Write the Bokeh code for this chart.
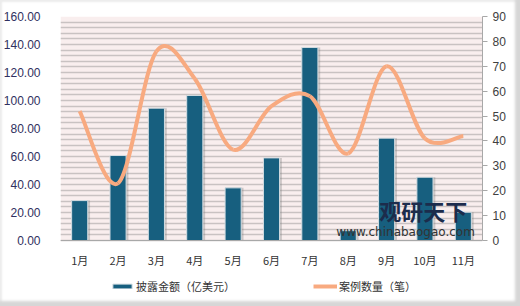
from bokeh.plotting import figure
from bokeh.models import (FactorRange, Range1d, LinearAxis, FixedTicker, NumeralTickFormatter,
                          Legend, LegendItem, ColumnDataSource, Label, BoxAnnotation, Span)
from bokeh.core.properties import value
from bokeh.transform import dodge
from bokeh.embed import file_html
from bokeh.resources import INLINE

months = ["1月", "2月", "3月", "4月", "5月", "6月", "7月", "8月", "9月", "10月", "11月"]
amount = [28.5, 60.7, 94.5, 103.6, 37.6, 59.0, 137.9, 7.0, 73.1, 45.2, 20.2]   # 披露金额（亿美元）
cases = [52, 23, 76, 65, 36.5, 54, 58, 35, 70, 41, 42]                            # 案例数量（笔）
left_ticks = [0, 20, 40, 60, 80, 100, 120, 140, 160]
right_ticks = [0, 10, 20, 30, 40, 50, 60, 70, 80, 90]

BAR = "#175f7f"
LINE = "#f8aa80"
CJK = "Noto Sans CJK SC"
NUM = "Liberation Sans"

LMAX, RMAX = 160, 90
LMIN = -45                       # room under the axis for month labels and legend
RMIN = LMIN * RMAX / LMAX

p = figure(width=520, height=306, x_range=FactorRange(*months), y_range=Range1d(LMIN, LMAX),
           output_backend="svg", toolbar_location=None, tools="")
p.min_border_left = 58
p.min_border_right = 38
p.min_border_top = 16
p.min_border_bottom = 3
p.border_fill_color = None
p.background_fill_color = None
p.outline_line_color = None
p.styles = {"background-color": "white",
            "box-shadow": "inset -5px -5px 3px #d6d6d6, inset 2px 2px 2px #ececec"}

p.extra_y_ranges = {"right": Range1d(RMIN, RMAX)}

# plot-area background and dense stripes
p.add_layout(BoxAnnotation(bottom=0, top=LMAX, fill_color="#f9eeee", fill_alpha=1,
                           line_color=None, level="image"))
p.xgrid.grid_line_color = None
p.ygrid.ticker = FixedTicker(ticks=[4 * i for i in range(41)])
p.ygrid.grid_line_color = "#c9c2c2"
p.ygrid.grid_line_width = 1.5

# axes
ax = p.yaxis[0]
ax.ticker = FixedTicker(ticks=left_ticks)
ax.formatter = NumeralTickFormatter(format="0.00")
ax.axis_line_color = None
ax.major_tick_line_color = None
ax.minor_tick_line_color = None
ax.major_label_standoff = 14
ax.major_label_text_font = NUM
ax.major_label_text_font_size = "12px"
ax.major_label_text_color = "#303060"

rax = LinearAxis(y_range_name="right", ticker=FixedTicker(ticks=right_ticks), bounds=(0, RMAX))
rax.axis_line_color = "#a8a8a8"
rax.major_tick_line_color = "#a8a8a8"
rax.major_tick_out = 5
rax.major_tick_in = 0
rax.minor_tick_line_color = None
rax.major_label_standoff = 5
rax.major_label_text_font = NUM
rax.major_label_text_font_size = "12px"
rax.major_label_text_color = "#404040"
p.add_layout(rax, "right")

p.xaxis.visible = False
p.add_layout(Span(location=0, dimension="width", line_color="#a8a8a8", line_width=1))
p.text(x=months, y=[0] * len(months), text=months, y_offset=11, text_align="center",
       text_baseline="top", text_font=value(CJK), text_font_size="11px", text_color="#333333")

src = ColumnDataSource(dict(month=months, amount=amount))
p.vbar(x=dodge("month", 0.06, range=p.x_range), top="amount", width=0.42, source=src,
       fill_color="#7a7a7a", fill_alpha=0.35, line_color=None)
bars = p.vbar(x="month", top="amount", width=0.42, source=src,
              fill_color=BAR, line_color="#d4dde2", line_width=1)

# smooth line via bezier segments (Catmull-Rom control points from the data)
xs = [i + 0.5 for i in range(len(cases))]
n = len(cases)
seg = dict(x0=[], y0=[], x1=[], y1=[], cx0=[], cy0=[], cx1=[], cy1=[])
for i in range(n - 1):
    xm, ym = (xs[i - 1], cases[i - 1]) if i > 0 else (xs[i], cases[i])
    xp, yp = (xs[i + 2], cases[i + 2]) if i + 2 < n else (xs[i + 1], cases[i + 1])
    seg["x0"].append(xs[i]); seg["y0"].append(cases[i])
    seg["x1"].append(xs[i + 1]); seg["y1"].append(cases[i + 1])
    seg["cx0"].append(xs[i] + (xs[i + 1] - xm) / 6)
    seg["cy0"].append(cases[i] + (cases[i + 1] - ym) / 6)
    seg["cx1"].append(xs[i + 1] - (xp - xs[i]) / 6)
    seg["cy1"].append(cases[i + 1] - (yp - cases[i]) / 6)
curve = p.bezier(source=ColumnDataSource(seg), x0="x0", y0="y0", x1="x1", y1="y1",
                 cx0="cx0", cy0="cy0", cx1="cx1", cy1="cy1",
                 line_color=LINE, line_width=4, y_range_name="right")

# watermark text
p.add_layout(Label(x=8.31, y=22.0, text="观研天下", text_font=CJK, text_font_size="22px",
                   text_font_style="bold", text_color="#1c2c4c", text_baseline="middle"))
p.add_layout(Label(x=7.19, y=5.8, text="www.chinabaogao.com", text_font="DejaVu Sans",
                   text_font_size="12px", text_color="#333333", text_baseline="middle"))

legend = Legend(items=[LegendItem(label="披露金额（亿美元）", renderers=[bars]),
                       LegendItem(label="案例数量（笔）", renderers=[curve])],
                orientation="horizontal", location=(50, 9))
legend.background_fill_alpha = 0
legend.border_line_color = None
legend.label_text_font = CJK
legend.label_text_font_size = "11px"
legend.label_text_color = "#333333"
legend.glyph_width = 24
legend.glyph_height = 6
legend.label_standoff = 2
legend.spacing = 78
legend.padding = 4
p.add_layout(legend, "center")

open("out.html", "w").write(file_html(p, INLINE))
